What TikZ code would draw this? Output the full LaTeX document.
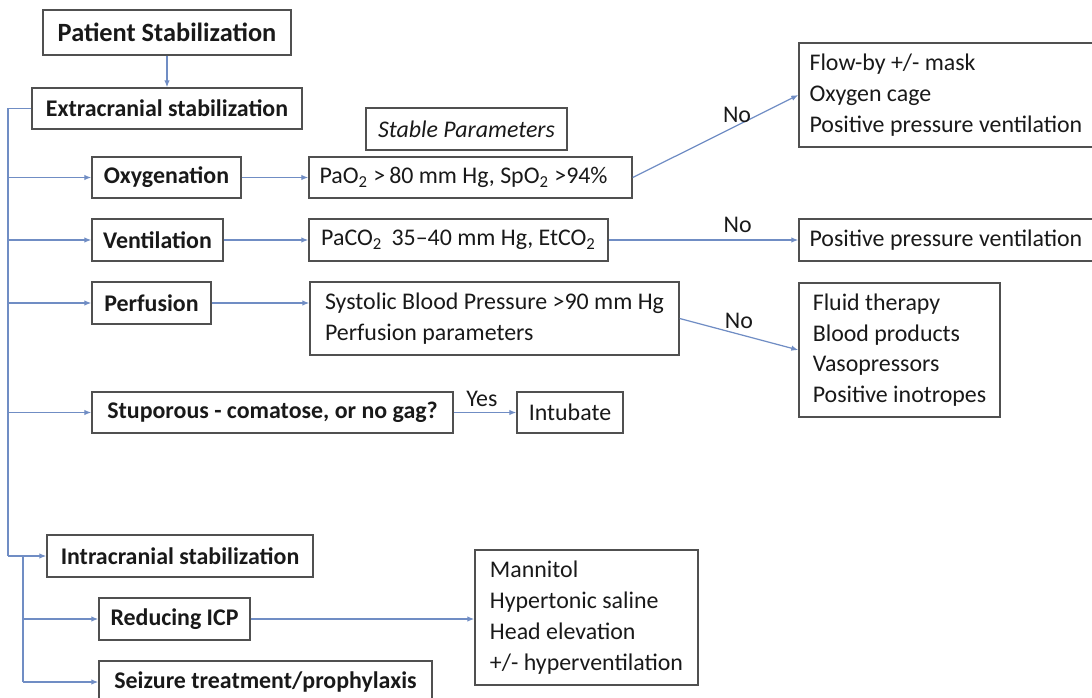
\documentclass[tikz,border=0pt]{standalone}
\usepackage{fontspec}
\setmainfont{Carlito}
\usepackage{tikz}
\usetikzlibrary{calc,positioning}
\usetikzlibrary{arrows.meta}
\definecolor{linkblue}{RGB}{112,141,196}
\definecolor{edgegray}{RGB}{80,80,80}
\tikzset{>={Latex[width=1.1mm,length=1.4mm]}}
\tikzset{wd/.code={\pgfmathsetlengthmacro\boxw{#1*0.02cm}\pgfkeysalso{minimum width=\boxw}},
         tw/.code={\pgfmathsetlengthmacro\boxt{#1*0.02cm-12pt}\pgfkeysalso{text width=\boxt}},
         ht/.code={\pgfmathsetlengthmacro\boxh{#1*0.02cm}\pgfkeysalso{minimum height=\boxh}}}

\begin{document}
\begin{tikzpicture}[x=0.02cm, y=-0.02cm]
  \tikzstyle{box} = [draw=edgegray, line width=0.8pt, text=black!90, inner xsep=6pt, inner ysep=2pt, align=left, font=\fontsize{13.6}{17.5}\selectfont]
  \tikzstyle{hbox} = [box, font=\fontsize{13.6}{17.5}\selectfont\bfseries]
  \tikzstyle{link} = [draw=linkblue, line width=0.7pt]
  \tikzstyle{lbl} = [text=black!90, inner sep=1pt, font=\fontsize{13.6}{17.5}\selectfont]
  \clip (0,0) rectangle (1092,697);

  % extracranial part
  \node[hbox, wd=248, ht=45, font=\fontsize{15}{18}\selectfont\bfseries] (ps) at (167,32.5) {Patient Stabilization};
  \node[hbox, wd=270, ht=41] (ext) at (167,108.5) {Extracranial stabilization};
  \node[box, wd=201, ht=42, font=\fontsize{13.6}{17.5}\selectfont\itshape] (stab) at (466.5,129) {Stable Parameters};

  \node[hbox, wd=149, ht=41] (oxy) at (166.5,177.5) {Oxygenation};
  \node[box, tw=323, ht=41, align=flush left] (pao) at (470.5,177.5) {PaO\textsubscript{2} >\,80 mm Hg, SpO\textsubscript{2} >94\%};
  \node[box, tw=330, ht=104, align=flush left] (flow) at (964,95) {Flow-by +/- mask\\Oxygen cage\\Positive pressure ventilation};

  \node[hbox, wd=131, ht=42] (vent) at (157.5,240) {Ventilation};
  \node[box, wd=299, ht=42] (paco) at (458.5,240) {PaCO\textsubscript{2}\, 35--40 mm Hg, EtCO\textsubscript{2}};
  \node[box, tw=330, ht=42, align=flush left] (ppv) at (964,240) {Positive pressure ventilation};

  \node[hbox, wd=119, ht=42] (perf) at (151.5,303) {Perfusion};
  \node[box, wd=369, ht=73] (sys) at (494.5,318.5) {Systolic Blood Pressure >90 mm Hg\\Perfusion parameters};
  \node[box, wd=201, ht=134] (fluid) at (899.5,350) {Fluid therapy\\Blood products\\Vasopressors\\Positive inotropes};

  \node[hbox, wd=361, ht=41] (stup) at (272.5,412.5) {Stuporous - comatose, or no gag?};
  \node[box, wd=106, ht=41] (intu) at (570,412.5) {Intubate};

  % intracranial part
  \node[hbox, wd=266, ht=42] (intra) at (180,556) {Intracranial stabilization};
  \node[hbox, wd=151, ht=42] (icp) at (174.5,619) {Reducing ICP};
  \node[hbox, wd=333, ht=42] (seiz) at (265.5,682) {Seizure treatment/prophylaxis};
  \node[box, wd=223, ht=135] (mann) at (586.5,617.5) {Mannitol\\Hypertonic saline\\Head elevation\\+/- hyperventilation};

  \coordinate (t1) at (8,108.5);
  \coordinate (t2) at (8,556);
  \coordinate (t3) at (23,556);
  \coordinate (t4) at (23,682);

  \draw[link,->] (ps) -- (ext);
  \draw[link] (ext.west) -- (t1) -- (t2);
  \draw[link,->] (t2) -- (intra.west);
  \foreach \n in {oxy,vent,perf,stup}
    \draw[link,->] (t1 |- \n.west) -- (\n.west);

  \draw[link,->] (oxy) -- (pao);
  \draw[link,->] (vent) -- (paco);
  \draw[link,->] (perf.east) -- (perf.east -| sys.west);
  \draw[link,->] (stup) -- (intu) node[lbl, pos=0.45, above=2pt] {Yes};

  \draw[link,->] (pao.east) -- (flow.west) node[lbl, pos=0.63, above=0pt] {No};
  \draw[link,->] (paco.east) -- (ppv.west) node[lbl, pos=0.68, above=3pt] {No};
  \draw[link,->] (sys.east) -- (fluid.west) node[lbl, pos=0.5, above=2pt] {No};

  \draw[link] (t3) -- (t4);
  \draw[link,->] (t3 |- icp.west) -- (icp.west);
  \draw[link,->] (t4) -- (seiz.west);
  \draw[link,->] (icp.east) -- (icp.east -| mann.west);
\end{tikzpicture}
\end{document}
